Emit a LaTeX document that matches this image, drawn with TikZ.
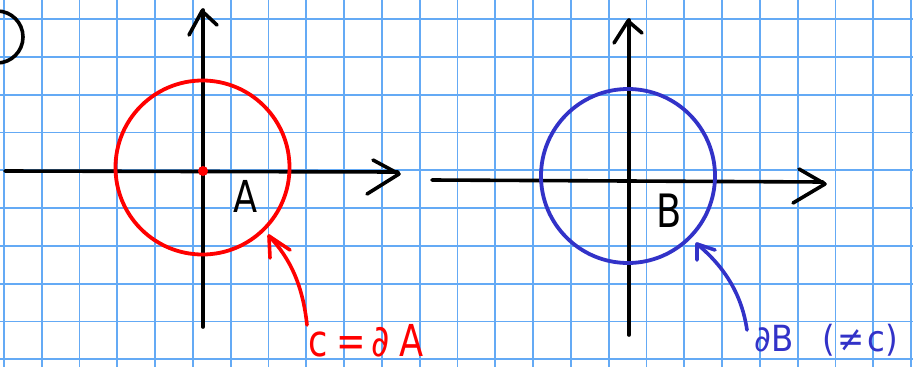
\documentclass[tikz,border=0pt]{standalone}
\usepackage{fontspec}
\setmainfont{DejaVu Sans}
\definecolor{gridblue}{RGB}{100,170,245}
\definecolor{penblue}{RGB}{50,50,200}
\definecolor{penred}{RGB}{255,0,0}
\tikzset{
  gridline/.style={draw=gridblue, line width=1.8pt},
  axis/.style={draw=black, line width=3.6pt, line cap=round, line join=round},
  curve/.style={line width=3.8pt},
  pen/.style={line width=3.6pt, line cap=round, line join=round},
  lbl/.style={inner sep=0pt, anchor=center}
}
\begin{document}
\begin{tikzpicture}[x=1pt,y=-1pt]
\useasboundingbox (0,0) rectangle (913,367);
\clip (0,0) rectangle (913,367);
\fill[white] (0,0) rectangle (913,367);
% grid
\foreach \k in {0,...,24} {
  \draw[gridline] ({3.9+37.8*\k},0) -- ({3.9+37.8*\k},367);
}
\foreach \k in {0,...,9} {
  \draw[gridline] (0,{19+37.8*\k}) -- (913,{19+37.8*\k});
}
% top-left mark
\draw[black, line width=3.6pt] (-3,37) circle[radius=26];
% left axes
\coordinate (lxs) at (5,171);
\coordinate (lxe) at (398,172);
\coordinate (lxt) at (399,174);
\coordinate (lxa) at (373,160);
\coordinate (lxb) at (367,194);
\coordinate (lys) at (203,327);
\coordinate (lye) at (203,10);
\coordinate (lyt) at (202,11);
\coordinate (lya) at (189,35);
\coordinate (lyb) at (217,25);
\draw[axis] (lxs) -- (lxe);
\draw[axis] (lxa) -- (lxt) -- (lxb);
\draw[axis] (lys) -- (lye);
\draw[axis] (lya) -- (lyt) -- (lyb);
% red circle A
\node[draw=penred, curve, circle, minimum size=174pt, inner sep=0pt] (cA) at (202.5,167.5) {};
\fill[penred] (203,171) circle[radius=5];
\node[lbl] (A) at (246,196) {\scalebox{0.8}[1]{\fontsize{44}{44}\selectfont A}};
% red arrow and label
\coordinate (rt) at (307,325);
\coordinate (rh) at (269,236);
\draw[pen, penred] (rt) .. controls (303,287) and (291,259) .. (rh);
\draw[pen, penred] (270,258) -- (rh) -- (290,250);
\node[lbl, text=penred] (cdA) at (366,341) {\scalebox{0.8}[1]{\fontsize{44}{44}\selectfont c\hspace{10pt}=\hspace{7pt}∂\hspace{12pt}A}};
% right axes
\coordinate (rxs) at (432,180);
\coordinate (rxe) at (823,182);
\coordinate (rxt) at (825,184);
\coordinate (rxa) at (799,169);
\coordinate (rxb) at (793,203);
\coordinate (rys) at (629,335);
\coordinate (rye) at (629,20);
\coordinate (ryt) at (628,21);
\coordinate (rya) at (614,43);
\coordinate (ryb) at (642,33);
\draw[axis] (rxs) -- (rxe);
\draw[axis] (rxa) -- (rxt) -- (rxb);
\draw[axis] (rys) -- (rye);
\draw[axis] (rya) -- (ryt) -- (ryb);
% blue circle B
\node[draw=penblue, curve, circle, minimum size=174pt, inner sep=0pt] (cB) at (628,176) {};
\node[lbl] (B) at (669,211) {\scalebox{0.8}[1]{\fontsize{46}{46}\selectfont B}};
% blue arrow and label
\coordinate (bt) at (747,330);
\coordinate (bh) at (697,244);
\draw[pen, penblue] (bt) .. controls (742,296) and (726,268) .. (bh);
\draw[pen, penblue] (697,260) -- (bh) -- (715,250);
\node[lbl, text=penblue] (dB) at (826,340) {\scalebox{0.9}[1]{\fontsize{36}{36}\selectfont ∂B\hspace{32pt}(\hspace{3pt}≠\hspace{3pt}c)}};
\end{tikzpicture}
\end{document}
